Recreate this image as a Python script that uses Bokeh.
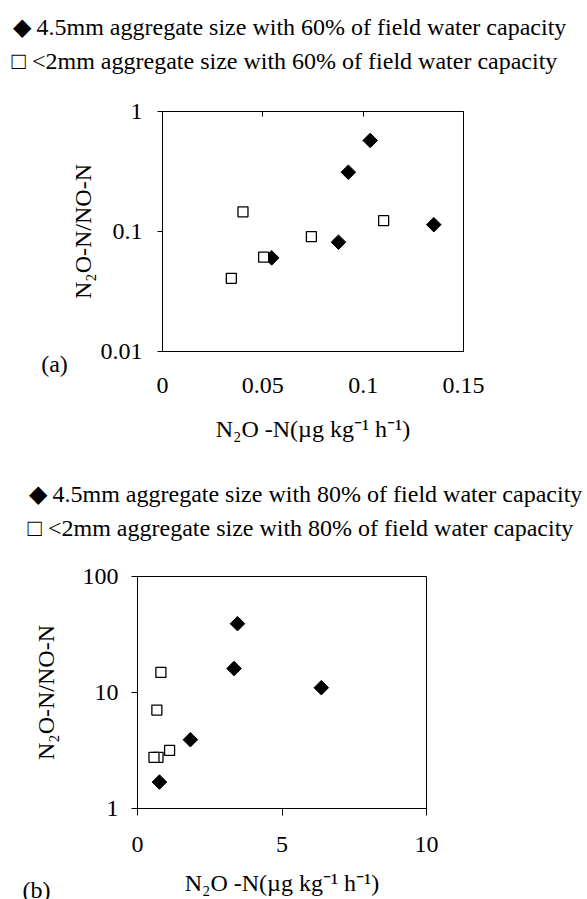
from bokeh.plotting import figure
from bokeh.models import (Range1d, FixedTicker, CustomJSTickFormatter, LinearAxis,
                          Label)
from bokeh.embed import file_html
from bokeh.resources import INLINE
import numpy as np

# ---- data -------------------------------------------------------------
# (a) 60% of field water capacity
a_coarse_x = [0.1035, 0.0926, 0.1352, 0.0877, 0.0544]
a_coarse_y = [0.574, 0.312, 0.114, 0.0815, 0.0603]
a_fine_x = [0.0401, 0.1102, 0.0742, 0.0504, 0.0343]
a_fine_y = [0.146, 0.123, 0.0908, 0.0611, 0.0407]

# (b) 80% of field water capacity
b_coarse_x = [3.46, 3.34, 6.36, 1.83, 0.76]
b_coarse_y = [39.2, 16.1, 11.0, 3.92, 1.69]
b_fine_x = [0.81, 0.67, 1.11, 0.71, 0.57]
b_fine_y = [14.9, 7.05, 3.17, 2.76, 2.76]

a_xticks = [0, 0.05, 0.1, 0.15]
a_yticks = [0.01, 0.1, 1]
b_xticks = [0, 5, 10]
b_yticks = [1, 10, 100]

legend_a = ["\u25c6 4.5mm aggregate size with 60% of field water capacity",
            "\u25a1 <2mm aggregate size with 60% of field water capacity"]
legend_b = ["\u25c6 4.5mm aggregate size with 80% of field water capacity",
            "\u25a1 <2mm aggregate size with 80% of field water capacity"]
y_title = "N\u2082O-N/NO-N"
x_title = "N\u2082O -N(\u00b5g kg\u207b\u00b9 h\u207b\u00b9)"

SERIF = "Liberation Serif"
FS = "24px"
fmt = CustomJSTickFormatter(code="return tick.toString()")
blank = CustomJSTickFormatter(code="return ''")


def make_fig(width, height, left, right, top, bottom, xr, yr):
    p = figure(width=width, height=height, x_range=Range1d(*xr), y_range=Range1d(*yr),
               y_axis_type="log", output_backend="svg", toolbar_location=None,
               title_location=None,
               min_border_left=left, min_border_right=right,
               min_border_top=top, min_border_bottom=bottom)
    p.xgrid.visible = False
    p.ygrid.visible = False
    p.outline_line_color = "black"
    p.outline_line_width = 1
    p.background_fill_color = "white"
    p.border_fill_color = "white"
    for ax in (p.xaxis[0], p.yaxis[0]):
        ax.formatter = fmt
        ax.minor_tick_line_color = None
        ax.axis_line_color = "black"
        ax.major_tick_line_color = "black"
        ax.major_label_text_font = SERIF
        ax.major_label_text_font_size = FS
        ax.major_label_text_color = "black"
        ax.axis_label_text_font = SERIF
        ax.axis_label_text_font_size = FS
        ax.axis_label_text_font_style = "normal"
        ax.axis_label_text_color = "black"
    p.xaxis[0].axis_label = x_title
    p.yaxis[0].axis_label = y_title
    return p


def add_points(p, cx, cy, fx, fy):
    p.scatter(cx, cy, marker="square", size=10.3, angle=np.pi / 4,
              fill_color="black", line_color="black", line_width=1)
    p.scatter(fx, fy, marker="square", size=10, fill_color="white",
              line_color="black", line_width=1.3)


def side_text(p, place, text, x, y, align="left"):
    # x, y in pixels from the side panel's bottom-left corner
    p.add_layout(Label(x=x, y=y, x_units="screen", y_units="screen", text=text,
                       text_font=SERIF, text_font_size=FS, text_color="black",
                       text_align=align, text_baseline="middle"), place)


# ---- panel (a) ----------------------------------------------------------
pa = make_fig(587, 460, 162, 124, 111, 109, (0, 0.15), (0.01, 1))
pa.xaxis[0].ticker = FixedTicker(ticks=a_xticks)
pa.xaxis[0].major_tick_out = 0
pa.xaxis[0].major_tick_in = 0
pa.xaxis[0].major_label_standoff = 26
pa.xaxis[0].axis_label_standoff = 20
pa.yaxis[0].ticker = FixedTicker(ticks=a_yticks)
pa.yaxis[0].major_tick_out = 5
pa.yaxis[0].major_tick_in = 0
pa.yaxis[0].major_label_standoff = 15
pa.yaxis[0].axis_label_standoff = 2
top_axis = LinearAxis(ticker=FixedTicker(ticks=a_xticks[1:-1]), major_tick_in=5,
                      major_tick_out=0, formatter=blank, major_label_standoff=0,
                      minor_tick_line_color=None, axis_line_color="black")
pa.add_layout(top_axis, "above")
add_points(pa, a_coarse_x, a_coarse_y, a_fine_x, a_fine_y)
side_text(pa, "above", legend_a[1], -151, 51)
side_text(pa, "above", legend_a[0], -150, 59)
side_text(pa, "right", "(a)", -409, -12, align="center")

# ---- panel (b) ----------------------------------------------------------
pb = make_fig(587, 439, 137, 161, 116, 91, (0, 10), (1, 100))
pb.xaxis[0].ticker = FixedTicker(ticks=b_xticks)
pb.xaxis[0].major_tick_out = 7
pb.xaxis[0].major_tick_in = 0
pb.xaxis[0].major_label_standoff = 21
pb.xaxis[0].axis_label_standoff = 15
pb.yaxis[0].ticker = FixedTicker(ticks=b_yticks)
pb.yaxis[0].major_tick_out = 6
pb.yaxis[0].major_tick_in = 0
pb.yaxis[0].major_label_standoff = 13
pb.yaxis[0].axis_label_standoff = 21
add_points(pb, b_coarse_x, b_coarse_y, b_fine_x, b_fine_y)
side_text(pb, "above", legend_b[1], -110, 49)
side_text(pb, "above", legend_b[0], -109, 57)
side_text(pb, "right", "(b)", -390, -81, align="center")

open("out.html", "w").write(file_html([pa, pb], INLINE))
